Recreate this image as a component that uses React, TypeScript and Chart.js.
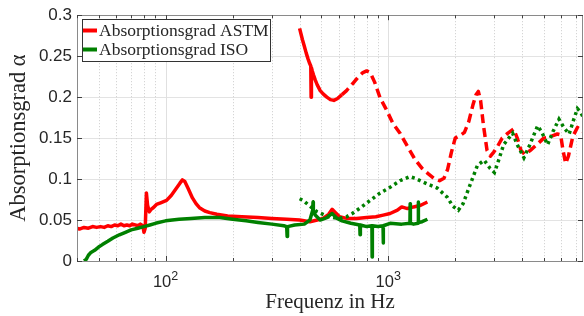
import React, { useEffect, useRef } from "react";
import { Chart, registerables } from "chart.js";

Chart.register(...registerables);

// ---------- data ----------
const astmLowHz = [40, 41, 43, 45, 47, 49, 51, 53, 55, 57, 59, 61, 63, 65, 67, 69, 71, 73, 75, 77, 79, 80, 81, 82, 83, 84.5, 86, 88, 91, 95, 101, 106, 112, 116, 119, 122, 126, 132, 137, 142, 150, 158, 170, 190, 220, 260, 300, 350, 400, 445, 480, 510, 540, 560, 580, 605, 650, 720, 800, 880, 950, 1020, 1100, 1150, 1220, 1300, 1400, 1500];
const astmLowAlpha = [0.040, 0.039, 0.041, 0.040, 0.042, 0.041, 0.042, 0.041, 0.043, 0.042, 0.044, 0.043, 0.045, 0.043, 0.044, 0.043, 0.045, 0.044, 0.043, 0.045, 0.043, 0.035, 0.040, 0.083, 0.068, 0.060, 0.063, 0.065, 0.069, 0.071, 0.074, 0.080, 0.089, 0.095, 0.099, 0.097, 0.089, 0.077, 0.070, 0.065, 0.061, 0.059, 0.057, 0.055, 0.054, 0.053, 0.052, 0.051, 0.050, 0.048, 0.050, 0.052, 0.057, 0.063, 0.059, 0.054, 0.052, 0.052, 0.053, 0.054, 0.056, 0.058, 0.062, 0.066, 0.064, 0.066, 0.068, 0.072];

const astmHighHz = [400, 405, 412, 420, 428, 436, 444, 449, 450.5, 452, 456, 462, 470, 480, 495, 510, 530, 550, 570, 590, 620, 650, 690, 730, 770, 800, 830, 870, 920, 980, 1050, 1130, 1220, 1320, 1420, 1520, 1620, 1700, 1780, 1850, 1920, 2000, 2100, 2200, 2300, 2400, 2480, 2540, 2600, 2680, 2780, 2880, 2980, 3100, 3250, 3450, 3660, 3800, 3950, 4100, 4350, 4650, 5000, 5250, 5500, 5750, 5950, 6100, 6270, 6450, 6750, 7080, 7500];
const astmHighAlpha = [0.284, 0.278, 0.270, 0.262, 0.254, 0.247, 0.241, 0.238, 0.200, 0.236, 0.232, 0.227, 0.221, 0.215, 0.208, 0.204, 0.200, 0.197, 0.196, 0.198, 0.203, 0.208, 0.216, 0.224, 0.230, 0.232, 0.230, 0.218, 0.199, 0.185, 0.168, 0.156, 0.140, 0.124, 0.113, 0.106, 0.100, 0.098, 0.101, 0.112, 0.132, 0.150, 0.153, 0.157, 0.170, 0.190, 0.203, 0.207, 0.196, 0.165, 0.135, 0.128, 0.133, 0.140, 0.150, 0.156, 0.161, 0.150, 0.135, 0.130, 0.135, 0.142, 0.150, 0.151, 0.153, 0.155, 0.154, 0.135, 0.119, 0.128, 0.152, 0.163, 0.158];
const astmSolidUntilHz = 620;

const isoLowHz = [43, 44, 45, 46, 48, 50, 52, 55, 58, 62, 66, 70, 75, 80, 85, 90, 100, 115, 130, 150, 175, 200, 230, 260, 300, 340, 350, 351.5, 353, 380, 420, 445, 458, 459.5, 461, 470, 495, 530, 560, 590, 620, 680, 745, 747.5, 750, 800, 845, 847, 849, 900, 948, 950, 952, 1020, 1150, 1252, 1255, 1258, 1300, 1362, 1365, 1368, 1420, 1500];
const isoLowAlpha = [0.000, 0.002, 0.007, 0.010, 0.013, 0.017, 0.020, 0.024, 0.028, 0.032, 0.035, 0.038, 0.040, 0.042, 0.044, 0.046, 0.049, 0.051, 0.052, 0.053, 0.053, 0.051, 0.049, 0.047, 0.045, 0.043, 0.042, 0.030, 0.042, 0.044, 0.045, 0.050, 0.062, 0.072, 0.062, 0.056, 0.050, 0.053, 0.058, 0.052, 0.049, 0.046, 0.044, 0.032, 0.044, 0.042, 0.043, 0.005, 0.043, 0.042, 0.043, 0.022, 0.043, 0.046, 0.045, 0.046, 0.070, 0.046, 0.045, 0.046, 0.072, 0.047, 0.048, 0.051];

const isoHighHz = [400, 415, 440, 480, 540, 600, 650, 690, 760, 830, 920, 1020, 1130, 1250, 1320, 1500, 1660, 1840, 1950, 2066, 2170, 2340, 2520, 2700, 2870, 3000, 3100, 3300, 3620, 3800, 4070, 4300, 4690, 4900, 5200, 5500, 5850, 6150, 6500, 6800, 7080, 7300, 7500];
const isoHighAlpha = [0.076, 0.074, 0.068, 0.060, 0.054, 0.052, 0.054, 0.058, 0.066, 0.074, 0.083, 0.090, 0.098, 0.103, 0.101, 0.094, 0.089, 0.078, 0.067, 0.062, 0.070, 0.094, 0.117, 0.123, 0.113, 0.108, 0.119, 0.142, 0.156, 0.142, 0.126, 0.140, 0.165, 0.157, 0.142, 0.158, 0.173, 0.163, 0.155, 0.172, 0.186, 0.182, 0.176];

const legendLabels = ["Absorptionsgrad ASTM", "Absorptionsgrad ISO"];
const seriesColors = ["#ff0000", "#008000"];

const xMin = 40;
const xMax = 7500;
const xGridValues = [40, 50, 60, 70, 80, 90, 100, 200, 300, 400, 500, 600, 700, 800, 900, 1000, 2000, 3000, 4000, 5000, 6000, 7000];
const xLabelValues = [100, 1000];
const xLabelBase = ["10", "10"];
const xLabelExp = ["2", "3"];
const yTickValues = [0, 0.05, 0.1, 0.15, 0.2, 0.25, 0.3];
const yTickLabels = ["0", "0.05", "0.1", "0.15", "0.2", "0.25", "0.3"];

const xTitle = "Frequenz in Hz";
const yTitle = "Absorptionsgrad \u03b1";

const toPoints = (xs: number[], ys: number[]) => xs.map((x, i) => ({ x, y: ys[i] }));

const TEXT = "#262626";
const SERIF = "'Liberation Serif', 'Times New Roman', serif";
const SANS = "'Liberation Sans', Arial, sans-serif";

const matlabPlugin = {
  id: "matlabLook",
  beforeDatasetsDraw(chart: any) {
    const { ctx, chartArea, scales } = chart;
    const { top, bottom } = chartArea;
    const x = scales.x;
    ctx.save();
    ctx.lineWidth = 1;
    for (const v of xGridValues) {
      const px = Math.round(x.getPixelForValue(v)) + 0.5;
      const major = xLabelValues.includes(v);
      ctx.strokeStyle = major ? "#e0e0e0" : "#cccccc";
      ctx.setLineDash(major ? [] : [1, 2]);
      ctx.beginPath();
      ctx.moveTo(px, top);
      ctx.lineTo(px, bottom);
      ctx.stroke();
    }
    ctx.restore();
  },
  afterDraw(chart: any) {
    const { ctx, chartArea, scales } = chart;
    const { left, right, top, bottom } = chartArea;
    const x = scales.x;
    const y = scales.y;
    ctx.save();
    ctx.setLineDash([]);
    ctx.strokeStyle = "#8a8a8a";
    ctx.lineWidth = 1;
    ctx.strokeRect(Math.round(left) + 0.5, Math.round(top) + 0.5, Math.round(right - left) - 1, Math.round(bottom - top));
    ctx.strokeStyle = "#404040";
    for (const v of xGridValues) {
      const px = Math.round(x.getPixelForValue(v)) + 0.5;
      const len = xLabelValues.includes(v) ? 5 : 3;
      ctx.beginPath();
      ctx.moveTo(px, bottom);
      ctx.lineTo(px, bottom - len);
      ctx.moveTo(px, top);
      ctx.lineTo(px, top + len);
      ctx.stroke();
    }
    for (const v of yTickValues) {
      const py = Math.round(y.getPixelForValue(v)) + 0.5;
      ctx.beginPath();
      ctx.moveTo(left, py);
      ctx.lineTo(left + 5, py);
      ctx.moveTo(right, py);
      ctx.lineTo(right - 5, py);
      ctx.stroke();
    }
    ctx.fillStyle = TEXT;
    ctx.textBaseline = "alphabetic";
    xLabelValues.forEach((v, i) => {
      const px = x.getPixelForValue(v);
      ctx.font = `16.5px ${SANS}`;
      const bw = ctx.measureText(xLabelBase[i]).width;
      ctx.font = `12.5px ${SANS}`;
      const ew = ctx.measureText(xLabelExp[i]).width;
      const x0 = px - (bw + ew) / 2;
      ctx.font = `16.5px ${SANS}`;
      ctx.textAlign = "left";
      ctx.fillText(xLabelBase[i], x0, bottom + 26);
      ctx.font = `12.5px ${SANS}`;
      ctx.fillText(xLabelExp[i], x0 + bw, bottom + 19);
    });
    const lx = Math.round(left) + 5;
    const ly = Math.round(top) + 4;
    const lw = 188;
    const lh = 42;
    ctx.fillStyle = "#ffffff";
    ctx.fillRect(lx, ly, lw, lh);
    ctx.strokeStyle = "#333333";
    ctx.lineWidth = 1;
    ctx.strokeRect(lx + 0.5, ly + 0.5, lw, lh);
    ctx.font = `17.5px ${SERIF}`;
    ctx.textBaseline = "middle";
    ctx.textAlign = "left";
    legendLabels.forEach((lab, i) => {
      const cy = ly + 11.5 + i * 19;
      ctx.strokeStyle = seriesColors[i];
      ctx.lineWidth = 4;
      ctx.beginPath();
      ctx.moveTo(lx + 1, cy);
      ctx.lineTo(lx + 15, cy);
      ctx.stroke();
      ctx.fillStyle = TEXT;
      ctx.fillText(lab, lx + 17, cy + 0.5);
    });
    ctx.restore();
  },
};

export default function App() {
  const ref = useRef<HTMLCanvasElement | null>(null);
  useEffect(() => {
    document.body.style.margin = "0";
    const canvas = ref.current;
    if (!canvas) return;
    const common = { pointRadius: 0, fill: false, tension: 0, clip: 0, borderWidth: 3.5, borderJoinStyle: "round" };
    const chart = new Chart(canvas, {
      type: "line",
      data: {
        datasets: [
          {
            ...common,
            label: legendLabels[1] + " (hoch)",
            data: toPoints(isoHighHz, isoHighAlpha),
            borderColor: seriesColors[1],
            borderDash: [3, 3.5],
            borderJoinStyle: "miter",
          },
          {
            ...common,
            label: legendLabels[1],
            data: toPoints(isoLowHz, isoLowAlpha),
            borderColor: seriesColors[1],
          },
          {
            ...common,
            label: legendLabels[0],
            data: toPoints(astmLowHz, astmLowAlpha),
            borderColor: seriesColors[0],
          },
          {
            ...common,
            label: legendLabels[0] + " (hoch)",
            data: toPoints(astmHighHz, astmHighAlpha),
            borderColor: seriesColors[0],
            segment: {
              borderDash: (c: any) => (c.p0.parsed.x >= astmSolidUntilHz ? [9, 5] : undefined),
            },
          },
        ] as any,
      },
      options: {
        animation: false,
        responsive: false,
        maintainAspectRatio: false,
        events: [],
        layout: { padding: { top: 13, right: 1, left: 0, bottom: 0 } },
        plugins: { legend: { display: false }, tooltip: { enabled: false } },
        scales: {
          x: {
            type: "logarithmic",
            min: xMin,
            max: xMax,
            afterBuildTicks: (s: any) => {
              s.ticks = xGridValues.map((v) => ({ value: v }));
            },
            afterFit: (s: any) => {
              s.height = 55;
            },
            ticks: { display: false },
            grid: { display: false },
            border: { display: false },
            title: {
              display: true,
              text: xTitle,
              color: TEXT,
              font: { family: SERIF, size: 21 },
              padding: { top: 0, bottom: 1 },
            },
          },
          y: {
            type: "linear",
            min: 0,
            max: 0.3,
            afterBuildTicks: (s: any) => {
              s.ticks = yTickValues.map((v) => ({ value: v }));
            },
            afterFit: (s: any) => {
              s.width = 77;
            },
            ticks: {
              padding: 5,
              color: TEXT,
              font: { family: SANS, size: 17 },
              callback: (_v: any, i: number) => yTickLabels[i],
            },
            grid: { color: "#e3e3e3", drawTicks: false },
            border: { display: false },
            title: {
              display: true,
              text: yTitle,
              color: TEXT,
              font: { family: SERIF, size: 22.5 },
              padding: { top: 6, bottom: 0 },
            },
          },
        },
      } as any,
      plugins: [matlabPlugin],
    });
    return () => chart.destroy();
  }, []);
  return (
    <div style={{ width: 584, height: 316 }}>
      <canvas ref={ref} width={584} height={316} style={{ display: "block" }} />
    </div>
  );
}
